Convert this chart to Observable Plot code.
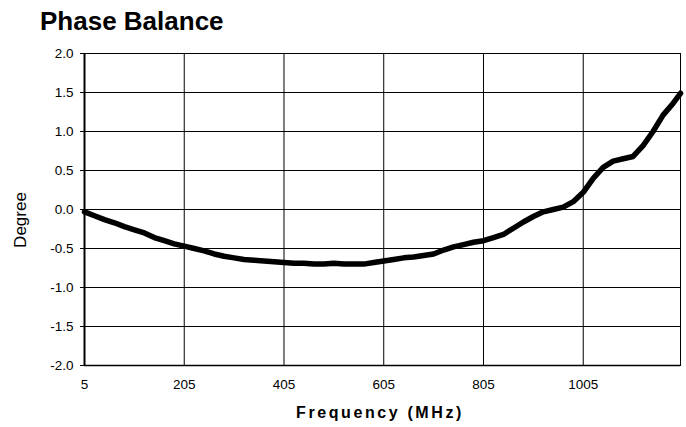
<!DOCTYPE html>
<html>
<head>
<meta charset="utf-8">
<script src="https://cdn.jsdelivr.net/npm/d3@7"></script>
<script src="https://cdn.jsdelivr.net/npm/@observablehq/plot@0.6"></script>
<style>
  html, body { margin: 0; padding: 0; background: #fff; }
  #wrap { position: relative; width: 686px; height: 427px; font-family: "Liberation Sans", Arial, sans-serif; }
  #title { position: absolute; left: 40px; top: 6px; font-size: 26px; font-weight: bold; color: #000; white-space: nowrap; }
  #xlabel { position: absolute; left: 0; width: 760px; top: 404px; text-align: center; font-size: 16px; font-weight: bold; letter-spacing: 2.6px; color: #000; white-space: nowrap; }
  #ylabel { position: absolute; left: 21px; top: 220px; transform: translate(-50%, -50%) rotate(-90deg); font-size: 17px; color: #000; white-space: nowrap; }
  #chart { position: absolute; left: 0; top: 0; }
</style>
</head>
<body>
<div id="wrap">
  <div id="chart"></div>
  <div id="title">Phase Balance</div>
  <div id="ylabel">Degree</div>
  <div id="xlabel">Frequency (MHz)</div>
</div>
<script>
const frequencies = [5, 25, 45, 65, 85, 105, 125, 145, 165, 185, 205, 225, 245, 265, 285, 305, 325, 345, 365, 385,
  405, 425, 445, 465, 485, 505, 525, 545, 565, 585, 605, 625, 645, 665, 685, 705, 725, 745, 765, 785,
  805, 825, 845, 865, 885, 905, 925, 945, 965, 985, 1005, 1025, 1045, 1065, 1085, 1105, 1125, 1145, 1165, 1185, 1200];
const phaseBalance = [-0.03, -0.08, -0.13, -0.17, -0.22, -0.26, -0.30, -0.36, -0.40, -0.44, -0.47, -0.50, -0.53, -0.57, -0.60, -0.62, -0.64, -0.65, -0.66, -0.67,
  -0.68, -0.69, -0.69, -0.70, -0.70, -0.69, -0.70, -0.70, -0.70, -0.68, -0.66, -0.64, -0.62, -0.61, -0.59, -0.57, -0.52, -0.48, -0.45, -0.42,
  -0.40, -0.36, -0.32, -0.24, -0.16, -0.09, -0.03, 0.00, 0.03, 0.10, 0.22, 0.40, 0.54, 0.62, 0.65, 0.68, 0.82, 1.00, 1.21, 1.36, 1.49];
const xTicks = [5, 205, 405, 605, 805, 1005];
const yTicks = [-2.0, -1.5, -1.0, -0.5, 0.0, 0.5, 1.0, 1.5, 2.0];

const data = frequencies.map((f, i) => ({f, v: phaseBalance[i]}));

const chart = Plot.plot({
  width: 686,
  height: 427,
  marginLeft: 84,
  marginRight: 6,
  marginTop: 53,
  marginBottom: 62,
  style: {fontFamily: "'Liberation Sans', Arial, sans-serif", fontSize: "13.5px", color: "#000", background: "#fff"},
  x: {domain: [5, 1200], label: null},
  y: {domain: [-2, 2], label: null},
  marks: [
    Plot.gridX(xTicks, {stroke: "#000", strokeOpacity: 1, strokeWidth: 1}),
    Plot.gridY(yTicks, {stroke: "#000", strokeOpacity: 1, strokeWidth: 1}),
    Plot.frame({stroke: "#000", strokeWidth: 1}),
    Plot.axisY(yTicks, {tickSize: 4, tickPadding: 7, tickFormat: d => d.toFixed(1), label: null, fontSize: 13.5}),
    Plot.axisX(xTicks, {tickSize: 0, tickPadding: 14, tickFormat: d => String(d), label: null, fontSize: 13.5}),
    Plot.ruleX([5], {stroke: "#000", strokeWidth: 2}),
    Plot.ruleY([-2], {stroke: "#000", strokeWidth: 1.5}),
    Plot.line(data, {x: "f", y: "v", stroke: "#000", strokeWidth: 5.5, strokeLinejoin: "round", strokeLinecap: "round"})
  ]
});
document.getElementById("chart").appendChild(chart);
</script>
</body>
</html>
